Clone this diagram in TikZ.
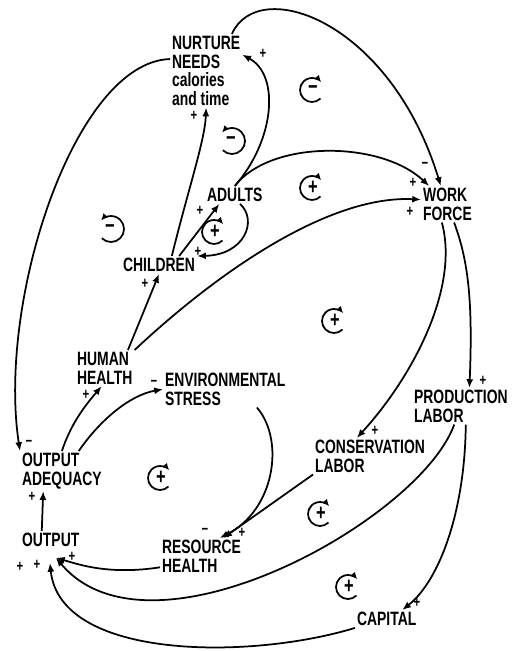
\documentclass[tikz,border=0pt]{standalone}
\usepackage{fontspec}
\usepackage{tikz}
\usetikzlibrary{arrows.meta}
\newfontfamily\diagfont{Liberation Sans}[FakeStretch=0.72]

\tikzset{
  var/.style={font=\diagfont\bfseries\fontsize{11}{10.6}\selectfont, align=left, inner sep=1pt, anchor=north west},
  link/.style={line width=0.35mm, -{Latex[length=5pt,width=4pt]}},
  sgn/.style={font=\diagfont\bfseries\fontsize{9}{9}\selectfont, inner sep=0pt},
  loopmark/.style={line width=0.35mm, -{Latex[length=4pt,width=3.5pt]}},
  loopsgn/.style={font=\diagfont\bfseries\fontsize{13}{13}\selectfont, inner sep=0pt},
}

\begin{document}
\begin{tikzpicture}[x=0.02cm, y=-0.02cm]
            \useasboundingbox (0,0) rectangle (512,651);

            % variables
            \node[var] (nurture) at (170,34) {NURTURE\\NEEDS\\calories\\and time};
            \node[var] (adults) at (205,186) {ADULTS};
            \node[var] (children) at (121,256) {CHILDREN};
            \node[var] (work) at (421,186) {WORK\\FORCE};
            \node[var] (human) at (75,350) {HUMAN\\HEALTH};
            \node[var] (env) at (163,371) {ENVIRONMENTAL\\STRESS};
            \node[var] (prod) at (412,388) {PRODUCTION\\LABOR};
            \node[var] (cons) at (313,438) {CONSERVATION\\LABOR};
            \node[var] (adeq) at (20,451) {OUTPUT\\ADEQUACY};
            \node[var] (output) at (20,531) {OUTPUT};
            \node[var] (resource) at (160,538) {RESOURCE\\HEALTH};
            \node[var] (capital) at (355,610) {CAPITAL};

            % links
            \draw[link] (nurture.162) .. controls (75,62) and (-3,300) .. (adeq.north west);
            \draw[link] (nurture.55) .. controls (258,-25) and (390,20) .. (work.110);
            \draw[link] (adults.north) .. controls (275,140) and (280,75) .. (nurture.24);
            \draw[link] (children.35) .. controls (188,190) and (205,140) .. (nurture.south);
            \draw[link] (children.24) -- (adults.210);
            \draw[link] (adults.-60) .. controls (258,220) and (245,255) .. (children.north east);
            \draw[link] (adults.north) .. controls (270,140) and (380,140) .. (work.135);
            \draw[link] (human.38) -- (children.south);
            \draw[link] (human.north east) .. controls (220,270) and (330,195) .. (work.170);
            \draw[link] (adeq.north) .. controls (72,420) and (90,400) .. (human.-100);
            \draw[link] (adeq.50) .. controls (100,420) and (130,395) .. (env.west);
            \draw[link] (env.-30) .. controls (285,440) and (275,510) .. (resource.45);
            \draw[link] (cons.south west) -- (resource.40);
            \draw[link] (work.-107) .. controls (460,290) and (410,380) .. (cons.126);
            \draw[link] (work.-70) .. controls (468,260) and (473,300) .. (prod.65);
            \draw[link] (prod.-110) .. controls (420,520) and (150,670) .. ([yshift=-5pt]output.-60);
            \draw[link] (prod.-75) .. controls (465,510) and (440,580) .. (capital.30);
            \draw[link] (capital.south west) .. controls (250,660) and (60,660) .. ([yshift=-8pt]output.-95);
            \draw[link] (resource.-165) .. controls (110,575) and (80,565) .. ([yshift=-5pt]output.-60);
            \draw[link] (output.135) -- (adeq.227);

            % polarities
            \node[sgn] (p1) at (29,443) {−};
            \node[sgn] (p2) at (425,165) {−};
            \node[sgn] (p3) at (413,183) {+};
            \node[sgn] (p4) at (410,212) {+};
            \node[sgn] (p5) at (263,54) {+};
            \node[sgn] (p6) at (194,116) {+};
            \node[sgn] (p7) at (200,211) {+};
            \node[sgn] (p8) at (198,252) {+};
            \node[sgn] (p9) at (145,284) {+};
            \node[sgn] (p10) at (86,395) {+};
            \node[sgn] (p11) at (154,383) {−};
            \node[sgn] (p12) at (205,531) {−};
            \node[sgn] (p13) at (242,533) {+};
            \node[sgn] (p14) at (375,431) {+};
            \node[sgn] (p15) at (483,381) {+};
            \node[sgn] (p16) at (417,603) {+};
            \node[sgn] (p17) at (32,497) {+};
            \node[sgn] (p18) at (20,567) {+};
            \node[sgn] (p19) at (37,565) {+};
            \node[sgn] (p20) at (72,557) {+};

            % loops
            \draw[loopmark] (312,90) ++(45:12) arc[start angle=45, end angle=320, radius=12];
            \node[loopsgn] (l1) at (313,90) {−};
            \draw[loopmark] (232,141) ++(135:13) arc[start angle=135, end angle=-140, radius=13];
            \node[loopsgn] (l2) at (231,141) {−};
            \draw[loopmark] (312,188) ++(45:12) arc[start angle=45, end angle=320, radius=12];
            \node[loopsgn] (l3) at (313,188) {+};
            \draw[loopmark] (111,229) ++(135:13) arc[start angle=135, end angle=-140, radius=13];
            \node[loopsgn] (l4) at (110,229) {−};
            \draw[loopmark] (214,232) ++(45:12) arc[start angle=45, end angle=320, radius=12];
            \node[loopsgn] (l5) at (215,232) {+};
            \draw[loopmark] (334,321) ++(45:12) arc[start angle=45, end angle=320, radius=12];
            \node[loopsgn] (l6) at (335,321) {+};
            \draw[loopmark] (160,478) ++(45:12) arc[start angle=45, end angle=320, radius=12];
            \node[loopsgn] (l7) at (161,478) {+};
            \draw[loopmark] (320,514) ++(45:12) arc[start angle=45, end angle=320, radius=12];
            \node[loopsgn] (l8) at (321,514) {+};
            \draw[loopmark] (348,587) ++(45:12) arc[start angle=45, end angle=320, radius=12];
            \node[loopsgn] (l9) at (349,587) {+};
        \end{tikzpicture}
\end{document}
